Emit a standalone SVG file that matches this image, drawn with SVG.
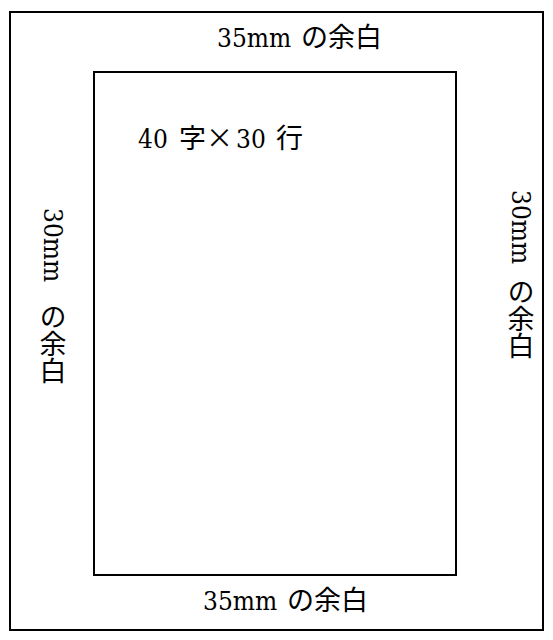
<svg xmlns="http://www.w3.org/2000/svg" width="553" height="640" viewBox="0 0 553 640">
<style>
.frame{fill:none;stroke:#000;stroke-width:2}
.t{font-family:"DejaVu Serif","Noto Sans CJK JP",serif;font-stretch:condensed;font-size:26px;fill:#000}
.j{font-family:"Noto Sans CJK JP",sans-serif;font-stretch:normal;font-size:27px}
.v{writing-mode:vertical-rl;text-orientation:mixed}
</style>
<rect width="553" height="640" fill="#fff"/>
<g id="outer"><rect class="frame" x="10" y="12" width="533" height="618"/></g>
<g id="inner"><rect class="frame" x="94" y="72" width="362" height="503"/></g>
<g id="label-top"><text class="t" x="217" y="47">35mm <tspan class="j" x="301">の余白</tspan></text></g>
<g id="label-bottom"><text class="t" x="203" y="610">35mm <tspan class="j" x="287">の余白</tspan></text></g>
<g id="label-grid"><text class="t" x="138" y="148">40 <tspan class="j" x="179">字×</tspan><tspan x="236">30 </tspan><tspan class="j" x="276">行</tspan></text></g>
<g id="label-left"><text class="t v" x="53" y="208">30mm <tspan class="j" y="303">の余白</tspan></text></g>
<g id="label-right"><text class="t v" x="521" y="190">30mm <tspan class="j" y="278">の余白</tspan></text></g>
<g id="connectors"/>
</svg>
